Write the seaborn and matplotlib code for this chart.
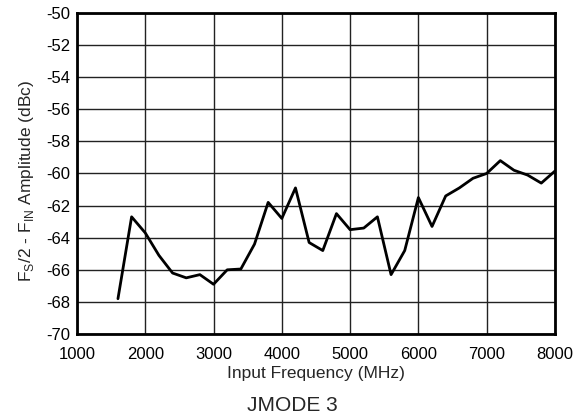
import matplotlib
matplotlib.use('Agg')
import matplotlib.pyplot as plt
import seaborn as sns
import pandas as pd

freq_mhz = [1600, 1800, 2000, 2200, 2400, 2600, 2800, 3000, 3200, 3400, 3600,
            3800, 4000, 4200, 4400, 4600, 4800, 5000, 5200, 5400, 5600, 5800,
            6000, 6200, 6400, 6600, 6800, 7000, 7200, 7400, 7600, 7800, 8000]
amp_dbc = [-67.8, -62.7, -63.7, -65.1, -66.2, -66.5, -66.3, -66.9, -66.0, -65.95, -64.4,
           -61.8, -62.8, -60.9, -64.3, -64.8, -62.5, -63.5, -63.4, -62.7, -66.3, -64.8,
           -61.5, -63.3, -61.4, -60.9, -60.3, -60.0, -59.2, -59.8, -60.1, -60.6, -59.85]
xticks = [1000, 2000, 3000, 4000, 5000, 6000, 7000, 8000]
yticks = list(range(-70, -49, 2))

df = pd.DataFrame({'freq': freq_mhz, 'amp': amp_dbc})

sns.set_style('white')
plt.rcParams['font.family'] = ['Liberation Sans', 'DejaVu Sans']
plt.rcParams['mathtext.fontset'] = 'custom'
plt.rcParams['mathtext.rm'] = 'Liberation Sans'
plt.rcParams['axes.unicode_minus'] = False

fig = plt.figure(figsize=(5.85, 4.16), dpi=100)
ax = fig.add_axes([0.1316, 0.197, 0.817, 0.772])

sns.lineplot(data=df, x='freq', y='amp', ax=ax, color='black', linewidth=2)

ax.set_xlim(1000, 8000)
ax.set_ylim(-70, -50)
ax.set_xticks(xticks)
ax.set_yticks(yticks)
ax.tick_params(axis='both', labelsize=12, length=0, colors='black')
ax.tick_params(axis='x', pad=9.5)
ax.tick_params(axis='y', pad=4.5)
ax.grid(True, color='#222222', linewidth=1.0)
for s in ax.spines.values():
    s.set_color('black')
    s.set_linewidth(2)

ax.set_xlabel('Input Frequency (MHz)', fontsize=12.5, labelpad=3)
ax.set_ylabel(r'F$_\mathregular{S}$/2 - F$_\mathregular{IN}$ Amplitude (dBc)', fontsize=12.5, labelpad=7.5)
ax.yaxis.label.set_y(0.477)
fig.text(0.5, 0.026, 'JMODE 3', ha='center', va='center', fontsize=15)

fig.savefig('out.png', dpi=100)
